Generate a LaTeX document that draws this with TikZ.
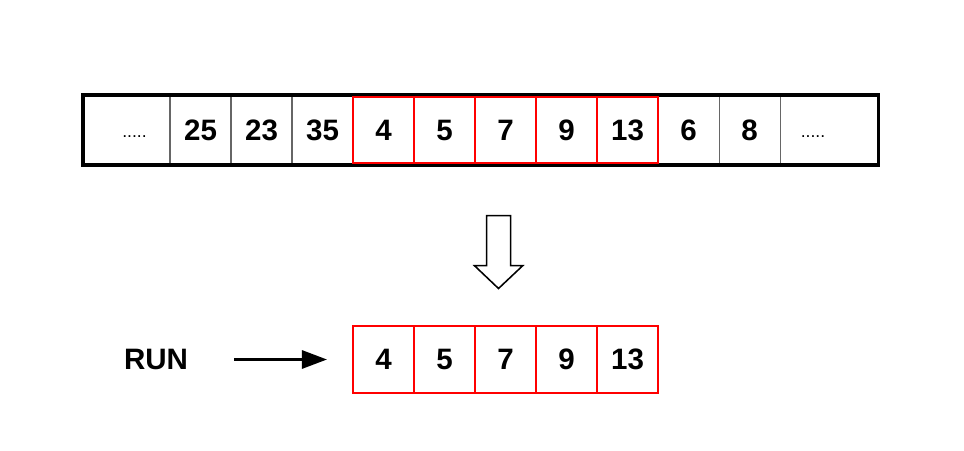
\documentclass[tikz,border=0pt]{standalone}
\usepackage{fontspec}
\setmainfont{Liberation Sans}
\usetikzlibrary{positioning,arrows.meta}

\begin{document}
\begin{tikzpicture}[
                x=0.025cm,
                y=-0.025cm,
                cell/.style={draw=black!60, line width=0.8pt, outer sep=0pt,
                    inner sep=0pt, minimum width=1.525cm, minimum height=1.75cm,
                    font=\fontsize{21}{25}\selectfont\bfseries},
                runcell/.style={cell, draw=red, line width=1.1pt,
                    minimum height=1.65cm},
                gap/.style={inner sep=0pt, font=\fontsize{12.5}{14}\selectfont},
                frame/.style={line width=2.2pt}]
            \useasboundingbox (0,0) rectangle (964,451);

            % the whole array
            \node[cell,minimum width=2.175cm] (c0) at (126.5,130) {};
            \node[cell]             (c1) [right=0pt of c0]      {25};
            \node[cell]             (c2) [right=0pt of c1]      {23};
            \node[cell]             (c3) [right=0pt of c2]      {35};
            \node[runcell]          (c4) [right=0pt of c3]      {4};
            \node[runcell]          (c5) [right=0pt of c4]      {5};
            \node[runcell]          (c6) [right=0pt of c5]      {7};
            \node[runcell]          (c7) [right=0pt of c6]      {9};
            \node[runcell]          (c8) [right=0pt of c7]      {13};
            \node[cell]             (c9) [right=0pt of c8]      {6};
            \node[cell]             (c10) [right=0pt of c9]     {8};
            \node[cell,minimum width=2.45cm] (c11) [right=0pt of c10] {};
            \node[gap]              (d0) at (134.5,137)         {.....};
            \node[gap]              (d1) at (813,137)           {.....};
            \draw[frame] (c0.north west) rectangle (c11.south east);
            \draw[red, line width=1.1pt] (c4.north west) rectangle (c8.south east);

            % hollow arrow
            \draw[line width=1.1pt, line join=miter]
                (486.7,215.7) -- (510.7,215.7) -- (510.7,265.7) -- (522.7,265.7)
                -- (498.5,288.5) -- (474.5,265.7) -- (486.7,265.7) -- cycle;

            % the run
            \node[runcell,minimum height=1.675cm] (r1) at (383.5,359.5) {4};
            \node[runcell,minimum height=1.675cm] (r2) [right=0pt of r1] {5};
            \node[runcell,minimum height=1.675cm] (r3) [right=0pt of r2] {7};
            \node[runcell,minimum height=1.675cm] (r4) [right=0pt of r3] {9};
            \node[runcell,minimum height=1.675cm] (r5) [right=0pt of r4] {13};
            \draw[red, line width=1.6pt] (r1.north west) rectangle (r5.south east);

            \node[inner sep=0pt, font=\fontsize{21}{25}\selectfont\bfseries]
                (run) at (156,359.5) {RUN};
            \path[-{Triangle[length=0.625cm,width=0.45cm]}, line width=2.1pt]
            (run)
                edge [shorten <=1.15cm, shorten >=0.65cm] (r1);
        \end{tikzpicture}
\end{document}
